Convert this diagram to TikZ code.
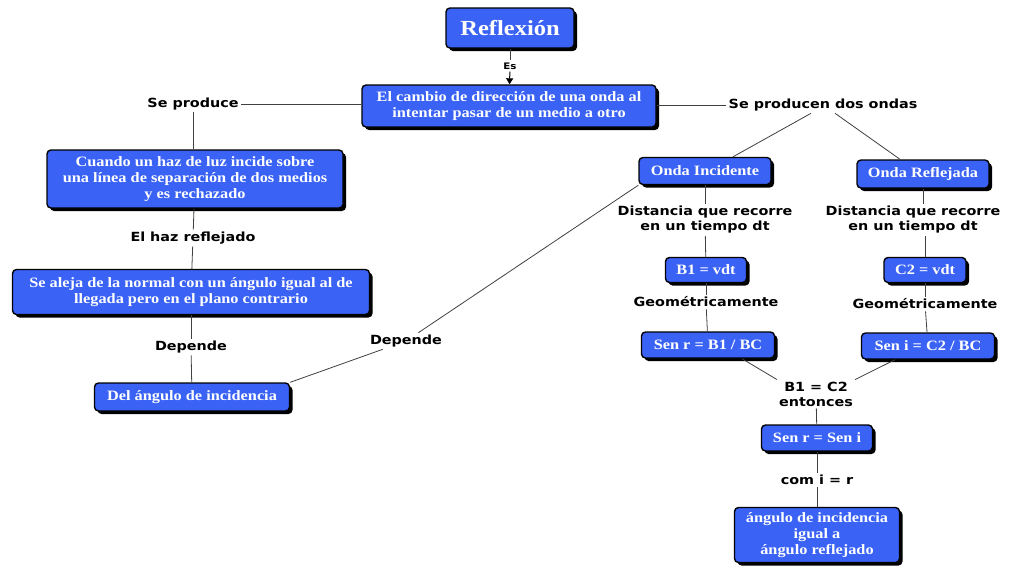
\documentclass[tikz,border=0pt]{standalone}
\usepackage{fontspec}
\newfontfamily\boxfont[FakeStretch=1.14]{Liberation Serif}
\newfontfamily\labfont[FakeStretch=1.14]{DejaVu Sans}
\usetikzlibrary{shadows,arrows.meta}
\definecolor{boxblue}{RGB}{58,98,245}
\tikzset{
  cbox/.style={draw=black, line width=1.4pt, fill=boxblue, rounded corners=4pt,
    text=white, font=\boxfont\bfseries\fontsize{14.3}{16}\selectfont, align=center,
    inner xsep=5pt, inner ysep=3pt,
    drop shadow={shadow xshift=3pt, shadow yshift=-3pt, fill=black, opacity=1}},
  lab/.style={font=\labfont\bfseries\fontsize{12.6}{15}\selectfont, align=center, inner sep=2pt},
  conn/.style={draw=black!75, line width=0.8pt},
}
\begin{document}
\begin{tikzpicture}[x=1pt,y=-1pt]
\useasboundingbox[fill=white] (0,0) rectangle (1024,576);
% boxes
\node[cbox, minimum width=128pt, minimum height=40pt, font=\boxfont\bfseries\fontsize{21.5}{24}\selectfont] (refl) at (510,28) {Reflexión};
\node[cbox, minimum width=294pt, minimum height=42pt] (main) at (509,106) {El cambio de dirección de una onda al\\intentar pasar de un medio a otro};
\node[cbox, minimum width=296pt, minimum height=58pt] (cuando) at (195,179) {Cuando un haz de luz incide sobre\\una línea de separación de dos medios\\y es rechazado};
\node[cbox, minimum width=357pt, minimum height=45pt] (aleja) at (191,292) {Se aleja de la normal con un ángulo igual al de\\llegada pero en el plano contrario};
\node[cbox, minimum width=195pt, minimum height=28pt] (delang) at (192,397) {Del ángulo de incidencia};
\node[cbox, minimum width=132pt, minimum height=27pt] (incid) at (705,171) {Onda Incidente};
\node[cbox, minimum width=132pt, minimum height=28pt] (refle) at (923,174) {Onda Reflejada};
\node[cbox, minimum width=81pt, minimum height=25pt] (bone) at (706,270) {B1 = vdt};
\node[cbox, minimum width=82pt, minimum height=25pt] (ctwo) at (925,270) {C2 = vdt};
\node[cbox, minimum width=133pt, minimum height=26pt] (senr) at (708,345) {Sen r = B1 / BC};
\node[cbox, minimum width=133pt, minimum height=26pt] (seni) at (928,346) {Sen i = C2 / BC};
\node[cbox, minimum width=111pt, minimum height=26pt] (sensen) at (817,438) {Sen r = Sen i};
\node[cbox, minimum width=165pt, minimum height=55pt] (final) at (817,535) {ángulo de incidencia\\igual a\\ángulo reflejado};
% labels
\node[lab, font=\labfont\bfseries\fontsize{9}{10}\selectfont] (es) at (510,66) {Es};
\node[lab] (seprod) at (193,104) {Se produce};
\node[lab] (producen) at (823,105) {Se producen dos ondas};
\node[lab] (haz) at (193,238) {El haz reflejado};
\node[lab] (dep1) at (191,347) {Depende};
\node[lab] (dep2) at (406,341) {Depende};
\node[lab] (dist1) at (705,220) {Distancia que recorre\\en un tiempo dt};
\node[lab] (dist2) at (913,220) {Distancia que recorre\\en un tiempo dt};
\node[lab] (geo1) at (706,302) {Geométricamente};
\node[lab] (geo2) at (925,304) {Geométricamente};
\node[lab] (entonces) at (816,394) {B1 = C2\\entonces};
\node[lab] (com) at (817,480) {com i = r};
% connectors
\draw[conn] (refl) -- (es);
\draw[conn, -{Triangle[length=6pt,width=7pt]}, draw=black, line width=1pt] (es) -- (main);
\draw[conn] (main.west |- seprod) -- (seprod);
\draw[conn] (seprod.south) -- (seprod.south |- cuando.north);
\draw[conn] (cuando) -- (haz);
\draw[conn] (haz) -- (aleja);
\draw[conn] (aleja) -- (dep1);
\draw[conn] (dep1) -- (delang);
\draw[conn] (delang.north east) -- (dep2);
\draw[conn] (dep2) -- (incid.south west);
\draw[conn] (main.east |- producen) -- (producen);
\path (producen.south) ++(-12,0) coordinate (pl);
\path (producen.south) ++(12,0) coordinate (pr);
\draw[conn] (pl) -- (incid.north -| 733,0);
\draw[conn] (pr) -- (refle.north -| 900,0);
\draw[conn] (incid) -- (dist1);
\draw[conn] (dist1) -- (bone);
\draw[conn] (refle) -- (dist2.north -| refle);
\draw[conn] (dist2.south -| ctwo) -- (ctwo);
\draw[conn] (bone) -- (geo1);
\draw[conn] (geo1) -- (senr);
\draw[conn] (ctwo) -- (geo2);
\draw[conn] (geo2) -- (seni);
\path (senr.south) ++(34,0) coordinate (sr);
\path (seni.south) ++(-33,0) coordinate (si);
\draw[conn] (sr) -- (entonces.north west);
\draw[conn] (si) -- (entonces.north east);
\draw[conn] (entonces) -- (sensen);
\draw[conn] (sensen) -- (com);
\draw[conn] (com) -- (final);
\end{tikzpicture}
\end{document}
